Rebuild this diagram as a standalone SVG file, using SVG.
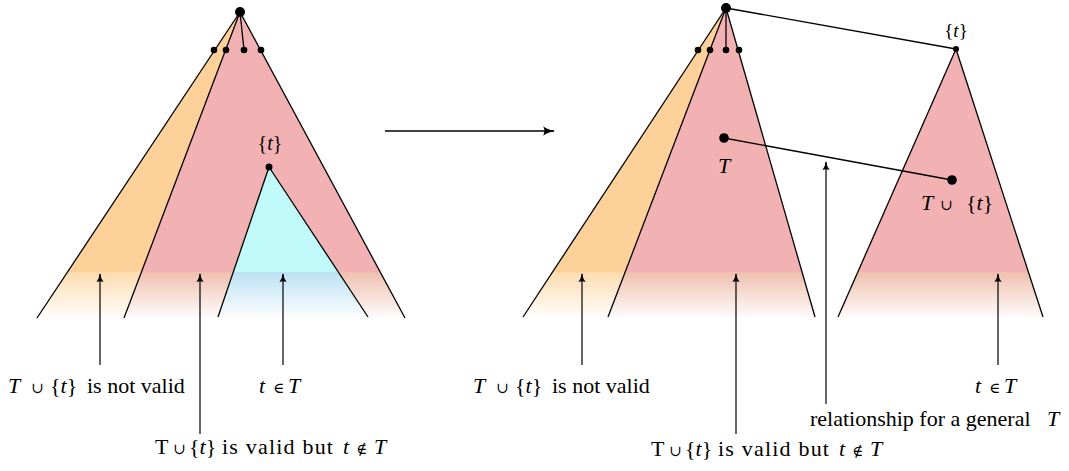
<svg xmlns="http://www.w3.org/2000/svg" width="1069" height="471" viewBox="0 0 1069 471">
<style>
  .ln{stroke:#000;stroke-width:1.3;fill:none}
  .ar{stroke:#000;stroke-width:1.2;fill:none;marker-end:url(#ah)}
  .tx{font-family:"Liberation Serif","Times New Roman",serif;font-size:22px;fill:#000}
  .it{font-style:italic}
  .op{font-family:"DejaVu Serif","Liberation Serif",serif;font-size:15px}
  .sp{letter-spacing:1.2px}
  .dot{fill:#000}
</style>
<defs>
  <marker id="ah" viewBox="0 0 10 10" refX="9" refY="5" markerWidth="9" markerHeight="9" markerUnits="userSpaceOnUse" orient="auto">
    <path d="M0,1 Q4,4.2 10,5 Q4,5.8 0,9 Q2,5 0,1 Z" fill="#000"/>
  </marker>
  <marker id="ahb" viewBox="0 0 10 10" refX="9" refY="5" markerWidth="12" markerHeight="12" markerUnits="userSpaceOnUse" orient="auto">
    <path d="M0,1 Q4,4.2 10,5 Q4,5.8 0,9 Q2,5 0,1 Z" fill="#000"/>
  </marker>
  <linearGradient id="gO" gradientUnits="userSpaceOnUse" x1="0" y1="0" x2="0" y2="320">
    <stop offset="0" stop-color="#FDD199"/>
    <stop offset="0.849" stop-color="#FDD199"/>
    <stop offset="0.85" stop-color="#FDDCAF"/>
    <stop offset="1" stop-color="#FFFFFF"/>
  </linearGradient>
  <linearGradient id="gP" gradientUnits="userSpaceOnUse" x1="0" y1="0" x2="0" y2="320">
    <stop offset="0" stop-color="#F2B2B3"/>
    <stop offset="0.849" stop-color="#F2B2B3"/>
    <stop offset="0.85" stop-color="#EFBFAE"/>
    <stop offset="1" stop-color="#FFFFFF"/>
  </linearGradient>
  <linearGradient id="gC" gradientUnits="userSpaceOnUse" x1="0" y1="0" x2="0" y2="320">
    <stop offset="0" stop-color="#C0FAFA"/>
    <stop offset="0.849" stop-color="#C0FAFA"/>
    <stop offset="0.85" stop-color="#BCE1F3"/>
    <stop offset="1" stop-color="#FFFFFF"/>
  </linearGradient>
</defs>

<g id="tree-left">
  <polygon points="240,12 37,318 124,318" fill="url(#gO)"/>
  <polygon points="240,12 124,318 405,318" fill="url(#gP)"/>
  <polygon points="269,167 218,317 368,317" fill="url(#gC)"/>
  <line class="ln" x1="240" y1="12" x2="37" y2="318"/>
  <line class="ln" x1="240" y1="12" x2="124" y2="318"/>
  <line class="ln" x1="240" y1="12" x2="405" y2="318"/>
  <line class="ln" x1="240" y1="12" x2="244" y2="50"/>
  <line class="ln" x1="269" y1="167" x2="218" y2="317"/>
  <line class="ln" x1="269" y1="167" x2="368" y2="317"/>
  <circle class="dot" cx="240" cy="12" r="5"/>
  <circle class="dot" cx="214" cy="50" r="3.3"/>
  <circle class="dot" cx="226" cy="50" r="3.3"/>
  <circle class="dot" cx="244" cy="50" r="3.3"/>
  <circle class="dot" cx="261" cy="50" r="3.3"/>
  <circle class="dot" cx="269" cy="167" r="3.5"/>
  <text class="tx" x="270" y="150" text-anchor="middle" style="font-size:20px">{<tspan class="it">t</tspan>}</text>
</g>

<g id="tree-middle">
  <polygon points="726,8 523,317 608,317" fill="url(#gO)"/>
  <polygon points="726,8 608,317 815,317" fill="url(#gP)"/>
  <line class="ln" x1="726" y1="8" x2="523" y2="317"/>
  <line class="ln" x1="726" y1="8" x2="608" y2="317"/>
  <line class="ln" x1="726" y1="8" x2="815" y2="317"/>
  <line class="ln" x1="726" y1="8" x2="726" y2="50"/>
  <circle class="dot" cx="726" cy="8" r="5"/>
  <circle class="dot" cx="698" cy="50" r="3.3"/>
  <circle class="dot" cx="710" cy="50" r="3.3"/>
  <circle class="dot" cx="726" cy="50" r="3.3"/>
  <circle class="dot" cx="739" cy="50" r="3.3"/>
</g>

<g id="tree-right">
  <polygon points="956,49 838,317 1043,317" fill="url(#gP)"/>
  <line class="ln" x1="956" y1="49" x2="838" y2="317"/>
  <line class="ln" x1="956" y1="49" x2="1043" y2="317"/>
  <circle class="dot" cx="956" cy="49" r="3"/>
  <text class="tx" x="956" y="37" text-anchor="middle" style="font-size:19px">{<tspan class="it">t</tspan>}</text>
</g>

<g id="node-T">
  <circle class="dot" cx="724" cy="138" r="4.8"/>
  <text class="tx it" x="724" y="173" text-anchor="middle">T</text>
</g>

<g id="node-Tt">
  <circle class="dot" cx="952" cy="180" r="4.8"/>
  <text class="tx" y="210"><tspan class="it" x="921">T</tspan><tspan class="op" x="940">∪</tspan><tspan x="966">{</tspan><tspan class="it">t</tspan><tspan>}</tspan></text>
</g>

<g id="connectors">
  <line class="ln" x1="726" y1="8" x2="956" y2="49"/>
  <line class="ln" x1="724" y1="138" x2="952" y2="180"/>
  <line x1="385" y1="131" x2="554" y2="131" stroke="#000" stroke-width="1.5" marker-end="url(#ahb)"/>
  <line class="ar" x1="100" y1="365" x2="100" y2="274"/>
  <line class="ar" x1="200" y1="434" x2="200" y2="274"/>
  <line class="ar" x1="283" y1="365" x2="283" y2="274"/>
  <line class="ar" x1="582" y1="365" x2="582" y2="274"/>
  <line class="ar" x1="736" y1="434" x2="736" y2="274"/>
  <line class="ar" x1="826" y1="404" x2="826" y2="162"/>
  <line class="ar" x1="998" y1="365" x2="998" y2="274"/>
</g>

<g id="labels">
  <text class="tx" y="393"><tspan class="it" x="8">T</tspan><tspan class="op" x="31">∪</tspan><tspan x="50">{</tspan><tspan class="it">t</tspan><tspan>}</tspan><tspan x="87">is not valid</tspan></text>
  <text class="tx" y="393"><tspan class="it" x="259">t</tspan><tspan class="op" x="273">∈</tspan><tspan class="it" x="288">T</tspan></text>
  <text class="tx" y="454"><tspan x="155">T</tspan><tspan class="op" x="173">∪</tspan><tspan x="189">{</tspan><tspan class="it">t</tspan><tspan>}</tspan><tspan class="sp" x="222">is valid but</tspan><tspan class="it" x="343">t</tspan><tspan class="op" x="356">∉</tspan><tspan class="it" x="374">T</tspan></text>

  <text class="tx" y="393"><tspan class="it" x="473">T</tspan><tspan class="op" x="496">∪</tspan><tspan x="515">{</tspan><tspan class="it">t</tspan><tspan>}</tspan><tspan x="552">is not valid</tspan></text>
  <text class="tx" y="393"><tspan class="it" x="975">t</tspan><tspan class="op" x="989">∈</tspan><tspan class="it" x="1004">T</tspan></text>
  <text class="tx" y="426"><tspan x="810">relationship for a general</tspan><tspan class="it" x="1047">T</tspan></text>
  <text class="tx" y="456"><tspan x="651">T</tspan><tspan class="op" x="669">∪</tspan><tspan x="685">{</tspan><tspan class="it">t</tspan><tspan>}</tspan><tspan class="sp" x="718">is valid but</tspan><tspan class="it" x="839">t</tspan><tspan class="op" x="852">∉</tspan><tspan class="it" x="870">T</tspan></text>
</g>
</svg>
